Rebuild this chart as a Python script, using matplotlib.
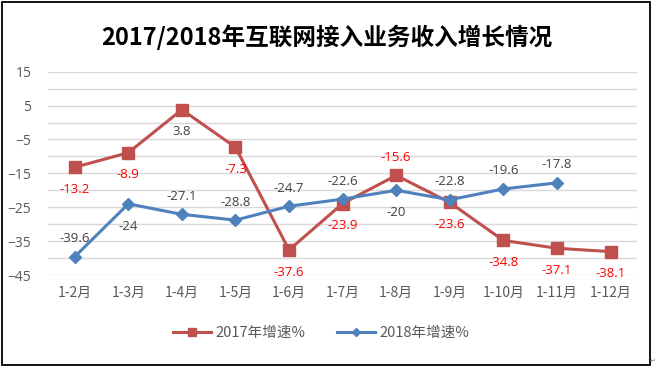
import matplotlib
matplotlib.use("Agg")
import matplotlib.pyplot as plt
from matplotlib.patches import Rectangle

plt.rcParams['font.family'] = ['Noto Sans CJK SC', 'DejaVu Sans']

months = ["1-2月", "1-3月", "1-4月", "1-5月", "1-6月", "1-7月", "1-8月", "1-9月", "1-10月", "1-11月", "1-12月"]
growth_2017 = [-13.2, -8.9, 3.8, -7.3, -37.6, -23.9, -15.6, -23.6, -34.8, -37.1, -38.1]
growth_2018 = [-39.6, -24, -27.1, -28.8, -24.7, -22.6, -20, -22.8, -19.6, -17.8]
labels_2017 = ["-13.2", "-8.9", "3.8", "-7.3", "-37.6", "-23.9", "-15.6", "-23.6", "-34.8", "-37.1", "-38.1"]
labels_2018 = ["-39.6", "-24", "-27.1", "-28.8", "-24.7", "-22.6", "-20", "-22.8", "-19.6", "-17.8"]
# label above (True) or below (False) the point
above_2017 = [False, False, False, False, False, False, True, False, False, False, False]
above_2018 = [True, False, True, True, True, True, False, True, True, True]

red = "#C0504D"
blue = "#4F81BD"
dark = "#404040"

fig = plt.figure(figsize=(6.57, 3.69), dpi=100)
ax = fig.add_axes([0.073, 0.2547, 0.897, 0.551])

x17 = list(range(len(growth_2017)))
x18 = list(range(len(growth_2018)))
ax.plot(x17, growth_2017, color=red, lw=2.2, marker="s", markersize=9, label="2017年增速%", zorder=3)
ax.plot(x18, growth_2018, color=blue, lw=2.2, marker="D", markersize=6.5, label="2018年增速%", zorder=4)

lab_font = ['Open Sans', 'DejaVu Sans']
for i, (v, t, up) in enumerate(zip(growth_2017, labels_2017, above_2017)):
    col = dark if v > 0 else "#FF0000"
    ax.annotate(t, (i, v), xytext=(0, 13 if up else -16), textcoords="offset points",
                ha="center", va="center", color=col, fontsize=9.5, family=lab_font)
for i, (v, t, up) in enumerate(zip(growth_2018, labels_2018, above_2018)):
    ax.annotate(t, (i, v), xytext=(0, 13 if up else -16), textcoords="offset points",
                ha="center", va="center", color=dark, fontsize=9.5, family=lab_font)

ax.set_xlim(-0.5, len(months) - 0.5)
ax.set_ylim(-45, 15)
ax.set_yticks(range(-45, 16, 10))
ax.set_yticks(range(-45, 16, 5), minor=True)
ax.set_xticks(x17)
ax.set_xticklabels(months)
ax.tick_params(axis="both", length=0, colors="#595959", labelsize=10)
ax.tick_params(axis="y", which="minor", length=0)
ax.tick_params(axis="x", pad=8)
ax.tick_params(axis="y", pad=12)
for lbl in ax.get_yticklabels():
    lbl.set_family(lab_font)
ax.grid(axis="y", which="both", color="#D9D9D9", lw=1)
ax.set_axisbelow(True)
for s in ax.spines.values():
    s.set_visible(False)

fig.text(0.497, 0.9, "2017/2018年互联网接入业务收入增长情况", ha="center", va="center",
         fontsize=17, fontweight="bold", color="black")

fig.legend(loc="center", bbox_to_anchor=(0.489, 0.098), ncol=2, frameon=False,
           fontsize=10.5, handlelength=2.6, handletextpad=0.3, columnspacing=2.2,
           markerscale=0.65, labelcolor="#595959")

fig.patches.append(Rectangle((2 / 657, 4 / 369), 648 / 657, 363 / 369, transform=fig.transFigure,
                             fill=False, edgecolor="black", lw=1.3))
fig.text(650 / 657, 8 / 369, "↵", fontsize=5, color="#808080", family="DejaVu Sans", va="center")

fig.savefig("out.png", dpi=100)
